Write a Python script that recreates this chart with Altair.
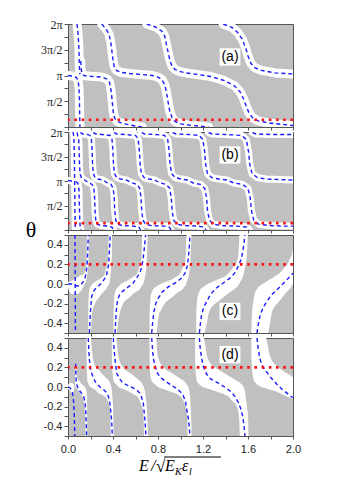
import altair as alt
import pandas as pd

# ---------------- panel (a): curves, E and theta/pi ----------------
a0_E = [0.0, 0.04, 0.075, 0.09, 0.098, 0.102, 0.104, 0.106]
a0_th = [1.0, 0.99, 0.96, 0.9, 0.75, 0.5, 0.2, 0.0]
a1_E = [0.08, 0.088, 0.094, 0.098, 0.1, 0.103, 0.106]
a1_th = [2.0, 1.85, 1.65, 1.45, 1.25, 1.1, 1.02]
a2_E = [0.113, 0.116, 0.122, 0.14, 0.2, 0.3, 0.35, 0.37, 0.385, 0.395, 0.403, 0.415, 0.44, 0.48, 0.55, 0.62, 0.66]
a2_th = [1.28, 1.15, 1.06, 1.0, 0.985, 0.97, 0.93, 0.86, 0.68, 0.45, 0.28, 0.17, 0.11, 0.07, 0.04, 0.01, 0.0]
a3_E = [0.3, 0.34, 0.365, 0.38, 0.39, 0.4, 0.41, 0.43, 0.47, 0.55, 0.65, 0.75, 0.8, 0.835, 0.86, 0.875, 0.89, 0.905, 0.925, 0.95, 1.0, 1.1, 1.2, 1.25]
a3_th = [2.0, 1.9, 1.8, 1.65, 1.48, 1.3, 1.18, 1.1, 1.06, 1.04, 1.02, 1.0, 0.97, 0.92, 0.82, 0.68, 0.48, 0.3, 0.18, 0.11, 0.06, 0.03, 0.01, 0.0]
a4_E = [0.7, 0.78, 0.835, 0.86, 0.875, 0.89, 0.905, 0.925, 0.95, 0.99, 1.05, 1.15, 1.27, 1.39, 1.48, 1.53, 1.56, 1.585, 1.61, 1.64, 1.69, 1.78, 1.9, 2.0]
a4_th = [2.0, 1.94, 1.86, 1.76, 1.6, 1.45, 1.3, 1.18, 1.12, 1.08, 1.05, 1.02, 0.98, 0.9, 0.8, 0.68, 0.55, 0.4, 0.27, 0.18, 0.12, 0.08, 0.05, 0.03]
a5_E = [1.38, 1.46, 1.51, 1.55, 1.58, 1.6, 1.625, 1.66, 1.72, 1.84, 2.0]
a5_th = [2.0, 1.93, 1.83, 1.7, 1.53, 1.38, 1.24, 1.15, 1.1, 1.05, 1.03]

# ---------------- panel (b): curves, E and theta/pi ----------------
b0_E = [0.0, 0.03, 0.052]
b0_th = [1.01, 1.0, 0.97]
b1_E = [0.045, 0.052, 0.056, 0.058, 0.06, 0.062, 0.064, 0.066]
b1_th = [2.0, 1.9, 1.6, 1.2, 0.8, 0.4, 0.1, 0.0]
b2_E = [0.07, 0.088, 0.097, 0.1, 0.103, 0.107, 0.115]
b2_th = [0.99, 0.95, 0.85, 0.6, 0.3, 0.1, 0.0]
b3_E = [0.08, 0.086, 0.095, 0.1, 0.102, 0.107, 0.118, 0.136, 0.16, 0.189, 0.215, 0.23, 0.237, 0.24, 0.247, 0.26, 0.291, 0.35, 0.39, 0.405]
b3_th = [1.99, 1.93, 1.85, 1.6, 1.35, 1.15, 1.07, 1.04, 1.0, 0.96, 0.93, 0.85, 0.65, 0.4, 0.2, 0.12, 0.09, 0.08, 0.06, 0.0]
b4_E = [0.11, 0.13, 0.17, 0.195, 0.208, 0.215, 0.218, 0.225, 0.24, 0.266, 0.31, 0.349, 0.382, 0.402, 0.411, 0.415, 0.424, 0.441, 0.481, 0.58, 0.63, 0.645]
b4_th = [1.99, 1.96, 1.95, 1.93, 1.85, 1.6, 1.35, 1.15, 1.07, 1.04, 1.02, 0.96, 0.93, 0.85, 0.65, 0.4, 0.2, 0.12, 0.09, 0.08, 0.06, 0.0]
b5_E = [0.225, 0.245, 0.3, 0.374, 0.391, 0.4, 0.404, 0.413, 0.433, 0.466, 0.52, 0.571, 0.613, 0.638, 0.649, 0.655, 0.666, 0.689, 0.739, 0.85, 0.9, 0.915]
b5_th = [1.99, 1.96, 1.95, 1.93, 1.85, 1.6, 1.35, 1.15, 1.07, 1.04, 1.02, 0.96, 0.93, 0.85, 0.65, 0.4, 0.2, 0.12, 0.09, 0.08, 0.06, 0.0]
b6_E = [0.41, 0.43, 0.5, 0.601, 0.624, 0.635, 0.641, 0.652, 0.677, 0.719, 0.77, 0.82, 0.872, 0.904, 0.918, 0.925, 0.939, 0.967, 1.03, 1.15, 1.21, 1.225]
b6_th = [1.99, 1.96, 1.95, 1.93, 1.85, 1.6, 1.35, 1.15, 1.07, 1.04, 1.02, 0.96, 0.93, 0.85, 0.65, 0.4, 0.2, 0.12, 0.09, 0.08, 0.06, 0.0]
b7_E = [0.655, 0.68, 0.78, 0.858, 0.886, 0.9, 0.907, 0.921, 0.953, 1.005, 1.06, 1.114, 1.177, 1.215, 1.232, 1.24, 1.257, 1.29, 1.366, 1.5, 1.59, 1.61]
b7_th = [1.99, 1.96, 1.95, 1.93, 1.85, 1.6, 1.35, 1.15, 1.07, 1.04, 1.02, 0.96, 0.93, 0.85, 0.65, 0.4, 0.2, 0.12, 0.09, 0.08, 0.06, 0.0]
b8_E = [0.93, 0.96, 1.07, 1.165, 1.198, 1.215, 1.223, 1.24, 1.278, 1.341, 1.41, 1.474, 1.552, 1.599, 1.62, 1.63, 1.651, 1.692, 1.786, 1.9, 2.0]
b8_th = [1.99, 1.96, 1.95, 1.93, 1.85, 1.6, 1.35, 1.15, 1.07, 1.04, 1.02, 0.96, 0.93, 0.85, 0.65, 0.4, 0.2, 0.12, 0.09, 0.08, 0.08]
b9_E = [1.25, 1.28, 1.4, 1.543, 1.584, 1.605, 1.615, 1.636, 1.683, 1.761, 1.88, 2.0]
b9_th = [1.99, 1.96, 1.95, 1.93, 1.85, 1.6, 1.35, 1.15, 1.07, 1.04, 1.03, 1.02]
b10_E = [1.64, 1.67, 1.8, 2.0]
b10_th = [1.99, 1.96, 1.95, 1.95]

# ---------------- panel (c): curves, E and theta ----------------
c1_E = [0.062, 0.063, 0.064, 0.065, 0.066]
c1_th = [0.5, 0.25, 0.0, -0.25, -0.5]
c2_E = [0.0, 0.03, 0.06, 0.09, 0.12, 0.145, 0.16, 0.17, 0.176, 0.18]
c2_th = [0.0, 0.0, -0.015, -0.02, 0.0, 0.04, 0.1, 0.2, 0.35, 0.5]
c3_E = [0.19, 0.195, 0.2, 0.21, 0.23, 0.25, 0.3, 0.34, 0.36, 0.37, 0.375]
c3_th = [-0.5, -0.38, -0.27, -0.13, -0.07, -0.04, 0.01, 0.08, 0.19, 0.36, 0.5]
c4_E = [0.418, 0.425, 0.433, 0.445, 0.462, 0.5, 0.536, 0.58, 0.61, 0.64, 0.655, 0.668, 0.676, 0.69]
c4_th = [-0.5, -0.35, -0.22, -0.15, -0.1, -0.06, -0.03, 0.01, 0.06, 0.12, 0.17, 0.26, 0.34, 0.5]
c5_E = [0.744, 0.752, 0.764, 0.78, 0.8, 0.84, 0.891, 0.966, 1.01, 1.04, 1.06, 1.07, 1.078, 1.084]
c5_th = [-0.5, -0.4, -0.28, -0.2, -0.15, -0.08, -0.03, 0.02, 0.06, 0.11, 0.18, 0.27, 0.38, 0.5]
c6_E = [1.168, 1.175, 1.188, 1.205, 1.233, 1.27, 1.32, 1.38, 1.44, 1.48, 1.5, 1.525, 1.544, 1.56, 1.573]
c6_th = [-0.5, -0.42, -0.31, -0.24, -0.18, -0.1, -0.04, 0.01, 0.06, 0.11, 0.15, 0.21, 0.27, 0.38, 0.5]
c7_E = [1.68, 1.69, 1.71, 1.735, 1.766, 1.81, 1.855, 1.9, 1.944, 1.975, 2.0]
c7_th = [-0.5, -0.42, -0.31, -0.24, -0.18, -0.11, -0.06, -0.01, 0.04, 0.08, 0.11]

# white regions of (c): E, lower and upper theta
rc2_E = [0.0, 0.03, 0.06, 0.085, 0.125, 0.14, 0.15, 0.163, 0.165, 0.17, 0.172, 0.18, 0.183, 0.186]
rc2_lo = [-0.04, -0.1, -0.1, -0.1, -0.05, -0.02, 0.0, 0.04, 0.05, 0.08, 0.1, 0.2, 0.3, 0.52]
rc2_hi = [0.02, 0.03, 0.05, 0.07, 0.095, 0.1, 0.13, 0.2, 0.24, 0.52, 0.52, 0.52, 0.52, 0.52]
rc3_E = [0.18, 0.182, 0.185, 0.19, 0.2, 0.215, 0.24, 0.28, 0.3, 0.325, 0.34, 0.35, 0.358, 0.362, 0.365, 0.375, 0.38, 0.385, 0.39, 0.392]
rc3_lo = [-0.52, -0.52, -0.52, -0.52, -0.52, -0.29, -0.2, -0.13, -0.1, -0.07, -0.05, -0.03, -0.014, -0.006, 0.0, 0.05, 0.1, 0.2, 0.3, 0.52]
rc3_hi = [-0.3, -0.2, -0.1, -0.05, -0.03, 0.0, 0.02, 0.05, 0.065, 0.1, 0.16, 0.2, 0.3, 0.52, 0.52, 0.52, 0.52, 0.52, 0.52, 0.52]
rc4_E = [0.405, 0.408, 0.415, 0.43, 0.45, 0.47, 0.49, 0.55, 0.58, 0.61, 0.64, 0.645, 0.655, 0.66, 0.668, 0.68, 0.688, 0.698, 0.703, 0.708]
rc4_lo = [-0.52, -0.52, -0.52, -0.52, -0.35, -0.257, -0.2, -0.133, -0.1, -0.075, -0.05, -0.041, -0.023, -0.014, 0.0, 0.05, 0.1, 0.2, 0.3, 0.52]
rc4_hi = [-0.3, -0.2, -0.1, -0.05, -0.025, 0.0, 0.0125, 0.05, 0.075, 0.1, 0.186, 0.2, 0.3, 0.52, 0.52, 0.52, 0.52, 0.52, 0.52, 0.52]
rc5_E = [0.725, 0.73, 0.74, 0.76, 0.782, 0.81, 0.82, 0.86, 0.93, 0.96, 0.99, 1.02, 1.035, 1.048, 1.05, 1.055, 1.065, 1.075, 1.085, 1.09, 1.098]
rc5_lo = [-0.52, -0.52, -0.52, -0.52, -0.52, -0.3, -0.28, -0.2, -0.13, -0.1, -0.075, -0.05, -0.025, -0.007, 0.0, 0.017, 0.05, 0.1, 0.2, 0.3, 0.52]
rc5_hi = [-0.3, -0.2, -0.1, -0.05, -0.028, -0.008, 0.0, 0.018, 0.05, 0.075, 0.1, 0.167, 0.2, 0.3, 0.36, 0.52, 0.52, 0.52, 0.52, 0.52, 0.52]
rc6_E = [1.14, 1.145, 1.16, 1.18, 1.2, 1.24, 1.25, 1.31, 1.34, 1.42, 1.48, 1.49, 1.515, 1.52, 1.525, 1.545, 1.56, 1.578, 1.59, 1.6]
rc6_lo = [-0.52, -0.52, -0.52, -0.52, -0.52, -0.36, -0.3, -0.2, -0.173, -0.1, -0.05, -0.04, -0.009, 0.0, 0.01, 0.05, 0.1, 0.2, 0.3, 0.52]
rc6_hi = [-0.3, -0.2, -0.1, -0.05, -0.033, 0.0, 0.005, 0.035, 0.05, 0.1, 0.186, 0.2, 0.3, 0.41, 0.52, 0.52, 0.52, 0.52, 0.52, 0.52]
rc7_E = [1.63, 1.635, 1.645, 1.66, 1.68, 1.73, 1.77, 1.8, 1.81, 1.86, 1.87, 1.93, 1.95, 1.97, 1.99, 2.0]
rc7_lo = [-0.52, -0.52, -0.52, -0.52, -0.52, -0.52, -0.52, -0.37, -0.3, -0.2, -0.186, -0.1, -0.075, -0.05, -0.017, 0.0]
rc7_hi = [-0.52, -0.3, -0.2, -0.1, -0.05, 0.0, 0.029, 0.05, 0.057, 0.093, 0.1, 0.175, 0.2, 0.25, 0.3, 0.36]

# ---------------- panel (d): curves, E and theta ----------------
d1_E = [0.0, 0.02, 0.038, 0.048, 0.055, 0.058, 0.06]
d1_th = [0.0, -0.01, -0.05, -0.12, -0.25, -0.38, -0.5]
d2_E = [0.068, 0.07, 0.074, 0.085, 0.1, 0.121, 0.14, 0.152, 0.158, 0.162, 0.165]
d2_th = [0.24, 0.12, 0.04, 0.0, -0.035, -0.065, -0.1, -0.16, -0.25, -0.37, -0.5]
d3_E = [0.18, 0.185, 0.19, 0.2, 0.225, 0.25, 0.285, 0.32, 0.344, 0.36, 0.373, 0.388, 0.394]
d3_th = [0.5, 0.38, 0.28, 0.18, 0.09, 0.04, 0.0, -0.03, -0.06, -0.1, -0.17, -0.34, -0.5]
d4_E = [0.403, 0.41, 0.418, 0.433, 0.46, 0.49, 0.54, 0.58, 0.62, 0.645, 0.67, 0.684, 0.693]
d4_th = [0.5, 0.38, 0.28, 0.14, 0.08, 0.04, 0.01, -0.01, -0.04, -0.07, -0.17, -0.34, -0.5]
d5_E = [0.744, 0.75, 0.759, 0.788, 0.83, 0.877, 0.93, 0.966, 1.0, 1.025, 1.045, 1.055, 1.068, 1.078, 1.084]
d5_th = [0.5, 0.4, 0.29, 0.15, 0.09, 0.05, 0.01, -0.017, -0.05, -0.09, -0.15, -0.23, -0.31, -0.4, -0.5]
d6_E = [1.168, 1.175, 1.188, 1.205, 1.233, 1.27, 1.32, 1.38, 1.44, 1.48, 1.515, 1.535, 1.553, 1.565, 1.573]
d6_th = [0.5, 0.4, 0.29, 0.2, 0.13, 0.08, 0.05, 0.01, -0.04, -0.09, -0.16, -0.22, -0.3, -0.4, -0.5]
d7_E = [1.68, 1.69, 1.705, 1.725, 1.755, 1.8, 1.855, 1.9, 1.944, 1.975, 2.0]
d7_th = [0.5, 0.4, 0.29, 0.22, 0.17, 0.1, 0.03, -0.02, -0.06, -0.09, -0.11]

# white regions of (d): E, lower and upper theta
rd1_E = [0.0, 0.02, 0.03, 0.05, 0.055]
rd1_lo = [-0.02, -0.04, -0.06, -0.05, -0.02]
rd1_hi = [0.02, 0.04, 0.04, 0.03, 0.0]
rd2_E = [0.062, 0.066, 0.072, 0.08, 0.1, 0.12, 0.128, 0.148, 0.15, 0.154, 0.156, 0.165, 0.17, 0.172]
rd2_lo = [0.03, 0.01, -0.01, -0.017, -0.05, -0.085, -0.1, -0.2, -0.25, -0.35, -0.52, -0.52, -0.52, -0.52]
rd2_hi = [0.2, 0.25, 0.25, 0.1, 0.065, 0.03, 0.023, 0.003, 0.0, -0.01, -0.015, -0.05, -0.1, -0.52]
rd3_E = [0.165, 0.167, 0.17, 0.175, 0.2, 0.22, 0.25, 0.26, 0.33, 0.37, 0.378, 0.382, 0.385, 0.39, 0.395, 0.4, 0.403, 0.405]
rd3_lo = [0.3, 0.2, 0.1, 0.05, 0.0, -0.014, -0.036, -0.05, -0.1, -0.2, -0.3, -0.52, -0.52, -0.52, -0.52, -0.52, -0.52, -0.52]
rd3_hi = [0.52, 0.52, 0.52, 0.52, 0.52, 0.3, 0.2, 0.19, 0.1, 0.05, 0.025, 0.012, 0.0, -0.05, -0.1, -0.2, -0.3, -0.52]
rd4_E = [0.39, 0.393, 0.4, 0.41, 0.425, 0.45, 0.49, 0.55, 0.6, 0.62, 0.65, 0.66, 0.672, 0.675, 0.678, 0.685, 0.69, 0.7, 0.705, 0.71]
rd4_lo = [0.3, 0.2, 0.1, 0.05, 0.031, 0.0, -0.02, -0.05, -0.086, -0.1, -0.175, -0.2, -0.3, -0.41, -0.52, -0.52, -0.52, -0.52, -0.52, -0.52]
rd4_hi = [0.52, 0.52, 0.52, 0.52, 0.52, 0.3, 0.2, 0.145, 0.1, 0.08, 0.05, 0.03, 0.006, 0.0, -0.015, -0.05, -0.1, -0.2, -0.3, -0.52]
rd5_E = [0.725, 0.728, 0.735, 0.75, 0.78, 0.8, 0.85, 0.92, 0.98, 1.0, 1.04, 1.045, 1.06, 1.065, 1.07, 1.08, 1.085, 1.09, 1.095, 1.1]
rd5_lo = [0.3, 0.2, 0.1, 0.05, 0.02, 0.0, -0.021, -0.05, -0.078, -0.1, -0.18, -0.2, -0.3, -0.52, -0.52, -0.52, -0.52, -0.52, -0.52, -0.52]
rd5_hi = [0.52, 0.52, 0.52, 0.52, 0.52, 0.3, 0.2, 0.146, 0.1, 0.083, 0.05, 0.042, 0.017, 0.008, 0.0, -0.05, -0.1, -0.2, -0.3, -0.52]
rd6_E = [1.13, 1.133, 1.14, 1.15, 1.2, 1.24, 1.3, 1.33, 1.43, 1.45, 1.5, 1.52, 1.53, 1.56, 1.575, 1.58, 1.59, 1.6, 1.605]
rd6_lo = [0.3, 0.2, 0.1, 0.05, 0.0, -0.015, -0.038, -0.05, -0.1, -0.129, -0.2, -0.3, -0.52, -0.52, -0.52, -0.52, -0.52, -0.52, -0.52]
rd6_hi = [0.52, 0.52, 0.52, 0.52, 0.52, 0.3, 0.2, 0.18, 0.113, 0.1, 0.064, 0.05, 0.04, 0.0, -0.05, -0.1, -0.2, -0.3, -0.52]
rd7_E = [1.63, 1.635, 1.645, 1.66, 1.72, 1.75, 1.8, 1.86, 1.87, 1.95, 2.0]
rd7_lo = [0.3, 0.2, 0.1, 0.05, 0.0, -0.011, -0.029, -0.05, -0.056, -0.1, -0.12]
rd7_hi = [0.52, 0.52, 0.52, 0.52, 0.52, 0.52, 0.3, 0.21, 0.2, 0.138, 0.1]

# red dotted levels, panel labels
red_levels = [0.14, 0.14, 0.2, 0.2]
label_E = [1.44, 1.44, 1.44, 1.44]
label_th = [1.36, 1.53, -0.28, 0.33]
label_txt = ["(a)", "(b)", "(c)", "(d)"]

# ticks
x_ticks = [0.0, 0.2, 0.4, 0.6, 0.8, 1.0, 1.2, 1.4, 1.6, 1.8, 2.0]
x_lab_vals = [0.0, 0.4, 0.8, 1.2, 1.6, 2.0]
x_lab_txt = ["0.0", "0.4", "0.8", "1.2", "1.6", "2.0"]
ab_ticks = [0, 0.25, 0.5, 0.75, 1, 1.25, 1.5, 1.75, 2]
ab_lab_vals = [0.5, 1, 1.5, 2]
ab_lab_txt = ["π/2", "π", "3π/2", "2π"]
cd_ticks = [-0.5, -0.4, -0.3, -0.2, -0.1, 0.0, 0.1, 0.2, 0.3, 0.4, 0.5]
cd_lab_vals = [-0.4, -0.2, 0.0, 0.2, 0.4]
cd_lab_txt = ["-0.4", "-0.2", "0.0", "0.2", "0.4"]


def curves_df(pairs):
    rows = []
    for cid, (es, ts) in enumerate(pairs):
        for i, (e, t) in enumerate(zip(es, ts)):
            rows.append({"cid": cid, "i": i, "E": e, "th": t})
    return pd.DataFrame(rows)


def regions_df(regs):
    rows = []
    for rid, (es, los, his) in enumerate(regs):
        for e, lo, hi in zip(es, los, his):
            rows.append({"rid": rid, "E": e, "lo": lo, "hi": hi})
    return pd.DataFrame(rows)


def label_expr(vals, txts):
    parts = " : ".join(f"datum.value == {v} ? '{t}'" for v, t in zip(vals, txts))
    return parts + " : ''"


BLUE = "#1c1cff"


def panel(curves, regions, ydom, yaxis, height, xaxis, idx, band_w, extra=()):
    xs = alt.Scale(domain=[0, 2], nice=False, zero=False)
    ys = alt.Scale(domain=ydom, nice=False, zero=False)
    X = alt.X("E:Q", scale=xs, axis=xaxis)
    Y = alt.Y("th:Q", scale=ys, axis=yaxis)
    cdf = curves_df(curves)
    layers = []
    if regions is not None:
        rdf = regions_df(regions)
        layers.append(
            alt.Chart(rdf).mark_area(color="white", opacity=1, clip=True, interpolate="monotone").encode(
                x=X, y=alt.Y("lo:Q", scale=ys, axis=yaxis), y2="hi:Q", detail="rid:N"
            )
        )
    else:
        layers.append(
            alt.Chart(cdf).mark_line(color="white", strokeWidth=band_w, strokeCap="round",
                                     strokeJoin="round", clip=True).encode(
                x=X, y=Y, detail="cid:N", order="i:Q")
        )
    layers.append(
        alt.Chart(cdf).mark_line(color=BLUE, strokeWidth=1.4, strokeDash=[4, 3], clip=True).encode(
            x=X, y=Y, detail="cid:N", order="i:Q")
    )
    layers.append(
        alt.Chart(pd.DataFrame({"th": [red_levels[idx]]})).mark_rule(
            color="#ff1010", strokeWidth=2.6, strokeDash=[2.6, 4.6]).encode(y=Y)
    )
    ldf = pd.DataFrame({"E": [label_E[idx]], "th": [label_th[idx]], "t": [label_txt[idx]]})
    layers.append(
        alt.Chart(ldf).mark_point(shape="M-1.2,-1L1.2,-1L1.2,1L-1.2,1Z", filled=True, color="white",
                                  opacity=1, size=300).encode(x=X, y=Y)
    )
    layers.append(
        alt.Chart(ldf).mark_text(font="Liberation Sans", fontSize=14, color="black").encode(
            x=X, y=Y, text="t:N")
    )
    layers.extend(extra)
    return alt.layer(*layers).properties(width=225, height=height)


x_axis_plain = alt.Axis(values=x_ticks, labels=False, title=None, tickSize=3, grid=False)
x_axis_lab = alt.Axis(values=x_ticks, labelExpr=label_expr(x_lab_vals, x_lab_txt), title=None,
                      tickSize=3, grid=False, labelFont="Liberation Sans", labelFontSize=11,
                      labelPadding=4, labelFlush=False)
y_axis_ab = alt.Axis(values=ab_ticks, labelExpr=label_expr(ab_lab_vals, ab_lab_txt), title=None,
                     tickSize=4, grid=False, labelFont="Liberation Serif", labelFontSize=12,
                     labelPadding=2, labelFlush=False)
y_axis_cd = alt.Axis(values=cd_ticks, labelExpr=label_expr(cd_lab_vals, cd_lab_txt), title=None,
                     tickSize=4, grid=False, labelFont="Liberation Sans", labelFontSize=11,
                     labelPadding=2, labelFlush=False)

curves_a = [(a0_E, a0_th), (a1_E, a1_th), (a2_E, a2_th), (a3_E, a3_th), (a4_E, a4_th), (a5_E, a5_th)]
curves_b = [(b0_E, b0_th), (b1_E, b1_th), (b2_E, b2_th), (b3_E, b3_th), (b4_E, b4_th), (b5_E, b5_th),
            (b6_E, b6_th), (b7_E, b7_th), (b8_E, b8_th), (b9_E, b9_th), (b10_E, b10_th)]
curves_c = [(c1_E, c1_th), (c2_E, c2_th), (c3_E, c3_th), (c4_E, c4_th), (c5_E, c5_th), (c6_E, c6_th),
            (c7_E, c7_th)]
curves_d = [(d1_E, d1_th), (d2_E, d2_th), (d3_E, d3_th), (d4_E, d4_th), (d5_E, d5_th), (d6_E, d6_th),
            (d7_E, d7_th)]
regions_c = [(rc2_E, rc2_lo, rc2_hi), (rc3_E, rc3_lo, rc3_hi), (rc4_E, rc4_lo, rc4_hi),
             (rc5_E, rc5_lo, rc5_hi), (rc6_E, rc6_lo, rc6_hi), (rc7_E, rc7_lo, rc7_hi)]
regions_d = [(rd1_E, rd1_lo, rd1_hi), (rd2_E, rd2_lo, rd2_hi), (rd3_E, rd3_lo, rd3_hi),
             (rd4_E, rd4_lo, rd4_hi), (rd5_E, rd5_lo, rd5_hi), (rd6_E, rd6_lo, rd6_hi),
             (rd7_E, rd7_lo, rd7_hi)]

one = pd.DataFrame({"k": [0]})
theta_title = alt.Chart(pd.DataFrame({"t": ["θ"]})).mark_text(
    font="Liberation Serif", fontSize=22, align="center", baseline="middle", color="black"
).encode(text="t:N", x=alt.value(-37), y=alt.value(98))

serif_it = dict(font="Liberation Serif", fontStyle="italic", color="black", align="left",
                baseline="alphabetic")
xt = [
    alt.Chart(pd.DataFrame({"t": ["E"]})).mark_text(fontSize=16, **serif_it).encode(
        text="t:N", x=alt.value(71), y=alt.value(133)),
    alt.Chart(pd.DataFrame({"t": ["/"]})).mark_text(fontSize=16, **serif_it).encode(
        text="t:N", x=alt.value(83), y=alt.value(133)),
    alt.Chart(pd.DataFrame({"t": ["√"]})).mark_text(font="Liberation Serif", fontSize=17, color="black",
                                                   align="left", baseline="alphabetic").encode(
        text="t:N", x=alt.value(88), y=alt.value(134)),
    alt.Chart(pd.DataFrame({"t": ["E"]})).mark_text(fontSize=16, **serif_it).encode(
        text="t:N", x=alt.value(97), y=alt.value(133)),
    alt.Chart(pd.DataFrame({"t": ["K"]})).mark_text(fontSize=10, **serif_it).encode(
        text="t:N", x=alt.value(107), y=alt.value(137)),
    alt.Chart(pd.DataFrame({"t": ["ε"]})).mark_text(fontSize=16, **serif_it).encode(
        text="t:N", x=alt.value(114), y=alt.value(133)),
    alt.Chart(pd.DataFrame({"t": ["l"]})).mark_text(fontSize=10, **serif_it).encode(
        text="t:N", x=alt.value(121), y=alt.value(137)),
    alt.Chart(one).mark_rule(color="black", strokeWidth=1).encode(
        x=alt.value(96), x2=alt.value(153), y=alt.value(119)),
]

pa = panel(curves_a, None, [0, 2], y_axis_ab, 103, x_axis_plain, 0, 9)
pb = panel(curves_b, None, [0, 2], y_axis_ab, 98, x_axis_plain, 1, 7, extra=[theta_title])
pc = panel(curves_c, regions_c, [-0.5, 0.5], y_axis_cd, 98, x_axis_plain, 2, 0)
pd_ = panel(curves_d, regions_d, [-0.5, 0.5], y_axis_cd, 98, x_axis_lab, 3, 0, extra=xt)

chart = alt.vconcat(pa, pb, pc, pd_, spacing=5, bounds="flush").properties(
    padding={"left": 17, "top": 9, "right": 5, "bottom": 5}
).configure_view(
    fill="#c0c0c0", stroke="#555555", strokeWidth=1
).configure_axis(
    domainColor="#555555", tickColor="#555555", labelColor="#222222", zindex=1
)

chart.save("out.html", embed_options={"renderer": "svg", "actions": False})
